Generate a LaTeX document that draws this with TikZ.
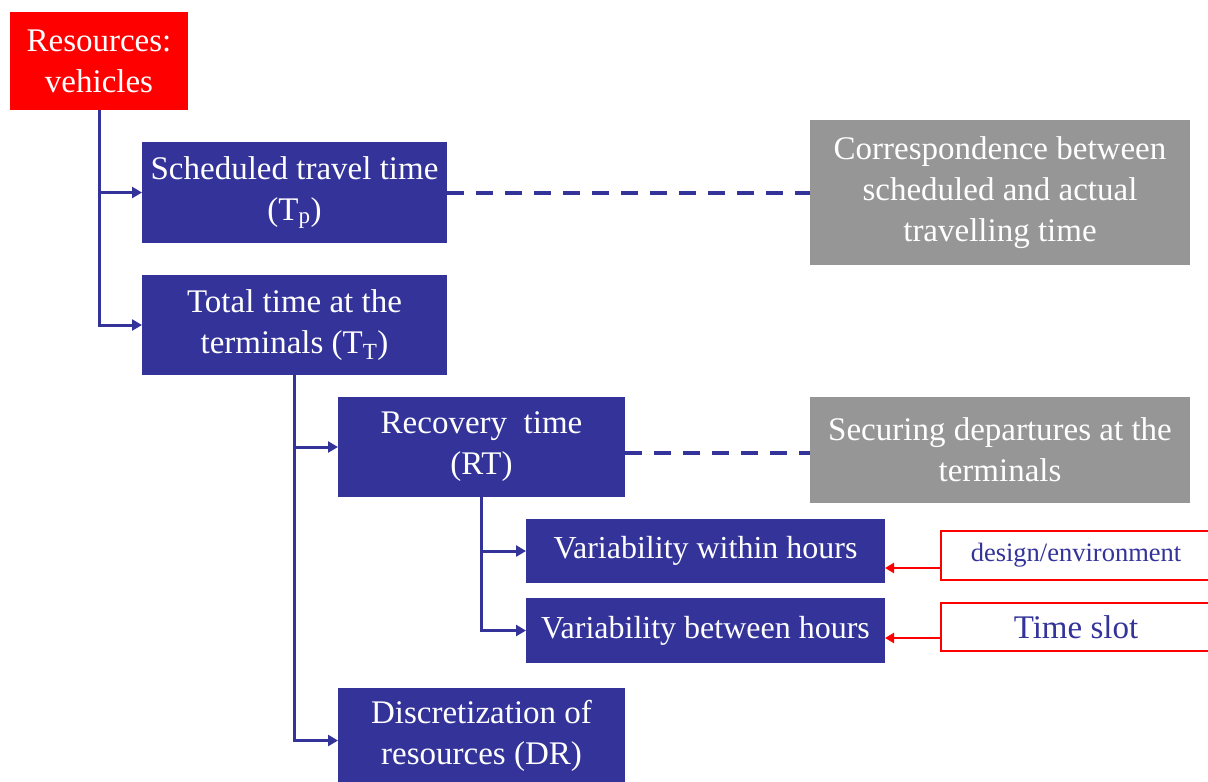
\documentclass[tikz,border=0pt]{standalone}
\usepackage{fontspec}
\setmainfont{Liberation Serif}
\usetikzlibrary{arrows.meta,calc}
\definecolor{boxblue}{HTML}{333399}
\definecolor{boxred}{HTML}{FF0000}
\definecolor{boxgray}{HTML}{969696}

\begin{document}
\begin{tikzpicture}[x=1pt,y=-1pt,
  base/.style={inner sep=0pt, outer sep=0pt, align=center, font=\fontsize{33}{41}\selectfont},
  bluebox/.style={base, fill=boxblue, text=white},
  redbox/.style={base, fill=boxred, text=white},
  graybox/.style={base, fill=boxgray, text=white},
  notebox/.style={base, draw=boxred, line width=2pt, fill=white, text=boxblue},
  conn/.style={draw=boxblue, line width=3pt, -{Triangle[length=10pt,width=11pt]}},
  link/.style={draw=boxblue, line width=4pt, dash pattern=on 17pt off 12pt},
  cause/.style={draw=boxred, line width=2.5pt, -{Triangle[length=9pt,width=10pt]}}
]
\clip (0,0) rectangle (1208,782);

% hierarchy of time components
\node[redbox, minimum width=178pt, minimum height=98pt] (res) at (99,61)
  {Resources:\\vehicles};
\node[bluebox, minimum width=305pt, minimum height=101pt] (sched) at (294.5,192.5)
  {Scheduled travel time\\(T\textsubscript{p})};
\node[bluebox, minimum width=305pt, minimum height=100pt] (total) at (294.5,325)
  {Total time at the\\terminals (T\textsubscript{T})};
\node[bluebox, minimum width=287pt, minimum height=100pt] (rt) at (481.5,447)
  {Recovery~ time\\(RT)};
\node[bluebox, minimum width=359pt, minimum height=64pt, font=\fontsize{32}{40}\selectfont] (var1) at (705.5,551)
  {Variability within hours};
\node[bluebox, minimum width=359pt, minimum height=65pt, font=\fontsize{32}{40}\selectfont] (var2) at (705.5,630.5)
  {Variability between hours};
\node[bluebox, minimum width=287pt, minimum height=95pt] (dr) at (481.5,735.5)
  {Discretization of\\resources (DR)};

% explanatory notes
\node[graybox, minimum width=380pt, minimum height=145pt] (corr) at (1000,192.5)
  {Correspondence between\\scheduled and actual\\travelling time};
\node[graybox, minimum width=380pt, minimum height=106pt] (secure) at (1000,450)
  {Securing departures at the\\terminals};
\node[notebox, minimum width=270pt, minimum height=49pt, font=\fontsize{26.5}{30}\selectfont] (design) at (1076,555.5)
  {design/environment};
\node[notebox, minimum width=270pt, minimum height=48pt] (slot) at (1076,627)
  {Time slot};

% tree connectors
\draw[conn] (res.south) |- (sched.west);
\draw[conn] (res.south) |- (total.west);
\draw[conn] (total.south) |- (rt.west);
\draw[conn] (total.south) |- ($(dr.west)+(0,5)$);
\draw[conn] (rt.south) |- (var1.west);
\draw[conn] (rt.south) |- (var2.west);

% dashed links to notes
\draw[link] (sched.east) -- (corr.west);
\draw[link] ($(rt.east)+(0,6)$) -- ($(secure.west)+(0,3)$);

% influencing factors
\draw[cause] ($(design.west)+(0,12.5)$) -- ($(var1.east)+(0,17)$);
\draw[cause] ($(slot.west)+(0,11)$) -- ($(var2.east)+(0,7.5)$);
\end{tikzpicture}
\end{document}
